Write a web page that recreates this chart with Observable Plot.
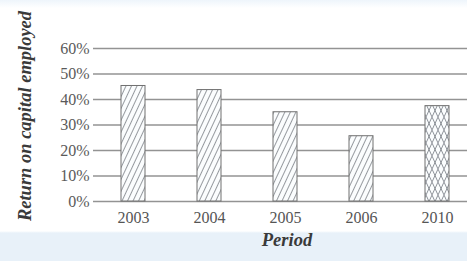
<!DOCTYPE html>
<html>
<head>
<meta charset="utf-8">
<script src="https://cdn.jsdelivr.net/npm/d3@7"></script>
<script src="https://cdn.jsdelivr.net/npm/@observablehq/plot@0.6"></script>
<style>
  html, body { margin: 0; padding: 0; background: #ffffff; }
  #wrap {
    position: relative; width: 467px; height: 261px; overflow: hidden;
    background: linear-gradient(to bottom, #eef5fb 0px, #ffffff 8px, #ffffff 231px, #e8f1f9 233px, #e8f1f9 261px);
  }
  #chart { position: absolute; left: 0; top: 0; }
  .serif { font-family: "Liberation Serif", "Times New Roman", Times, "DejaVu Serif", serif; }
  #ylab {
    position: absolute; left: -81px; top: 106px; width: 212px; height: 20px;
    line-height: 20px; text-align: center; transform: rotate(-90deg);
    font-weight: bold; font-style: italic;
    font-size: 18.5px; color: #3a3a3a; white-space: nowrap;
  }
  #xlab {
    position: absolute; left: 237px; top: 229px; width: 100px; text-align: center;
    font-weight: bold; font-style: italic;
    font-size: 18.5px; color: #3a3a3a; line-height: 22px;
  }
  #chart svg text { font-family: "Liberation Serif", "Times New Roman", Times, "DejaVu Serif", serif !important; }
</style>
</head>
<body>
<div id="wrap">
  <div id="chart"></div>
  <div id="ylab" class="serif">Return on capital employed</div>
  <div id="xlab" class="serif">Period</div>
</div>
<script>
const periods = ["2003", "2004", "2005", "2006", "2010"];
const returns = [0.453, 0.437, 0.350, 0.256, 0.374];
const kinds = ["actual", "actual", "actual", "actual", "forecast"];
const yTicks = [0, 0.1, 0.2, 0.3, 0.4, 0.5, 0.6];

const data = periods.map((p, i) => ({period: p, value: returns[i], kind: kinds[i]}));

const svg = Plot.plot({
  width: 467,
  height: 232,
  marginLeft: 93,
  marginRight: 0,
  marginTop: 48,
  marginBottom: 31,
  style: {background: "transparent", color: "#555"},
  x: {domain: periods, paddingInner: 0.684, paddingOuter: 0.3, align: 0.6, label: null},
  y: {domain: [0, 0.6], label: null},
  marks: [
    Plot.gridY(yTicks, {stroke: "#939393", strokeOpacity: 1, strokeWidth: 1.3}),
    Plot.axisY(yTicks, {tickSize: 0, tickPadding: 4, tickFormat: d3.format(".0%"), fontSize: 16, fill: "#5a5a5a", label: null}),
    Plot.axisX({tickSize: 0, tickPadding: 10, fontSize: 16, fill: "#555", label: null}),
    Plot.barY(data.filter(d => d.kind === "actual"), {x: "period", y: "value", fill: "url(#hatch)", stroke: "#707070", strokeWidth: 1}),
    Plot.barY(data.filter(d => d.kind === "forecast"), {x: "period", y: "value", fill: "url(#cross)", stroke: "#707070", strokeWidth: 1})
  ]
});

const defs = d3.select(svg).insert("defs", ":first-child");
const h = defs.append("pattern").attr("id", "hatch").attr("patternUnits", "userSpaceOnUse")
  .attr("width", 5).attr("height", 5).attr("patternTransform", "rotate(25)");
h.append("rect").attr("width", 5).attr("height", 5).attr("fill", "#fbfdfe");
h.append("line").attr("x1", 0.5).attr("y1", 0).attr("x2", 0.5).attr("y2", 5).attr("stroke", "#8a8f94").attr("stroke-width", 0.9);

const c = defs.append("pattern").attr("id", "cross").attr("patternUnits", "userSpaceOnUse")
  .attr("width", 6).attr("height", 13);
c.append("rect").attr("width", 6).attr("height", 13).attr("fill", "#fbfdfe");
c.append("path").attr("d", "M0,0L6,13M6,0L0,13").attr("stroke", "#80868c").attr("stroke-width", 0.9).attr("fill", "none");

document.getElementById("chart").appendChild(svg);
</script>
</body>
</html>
